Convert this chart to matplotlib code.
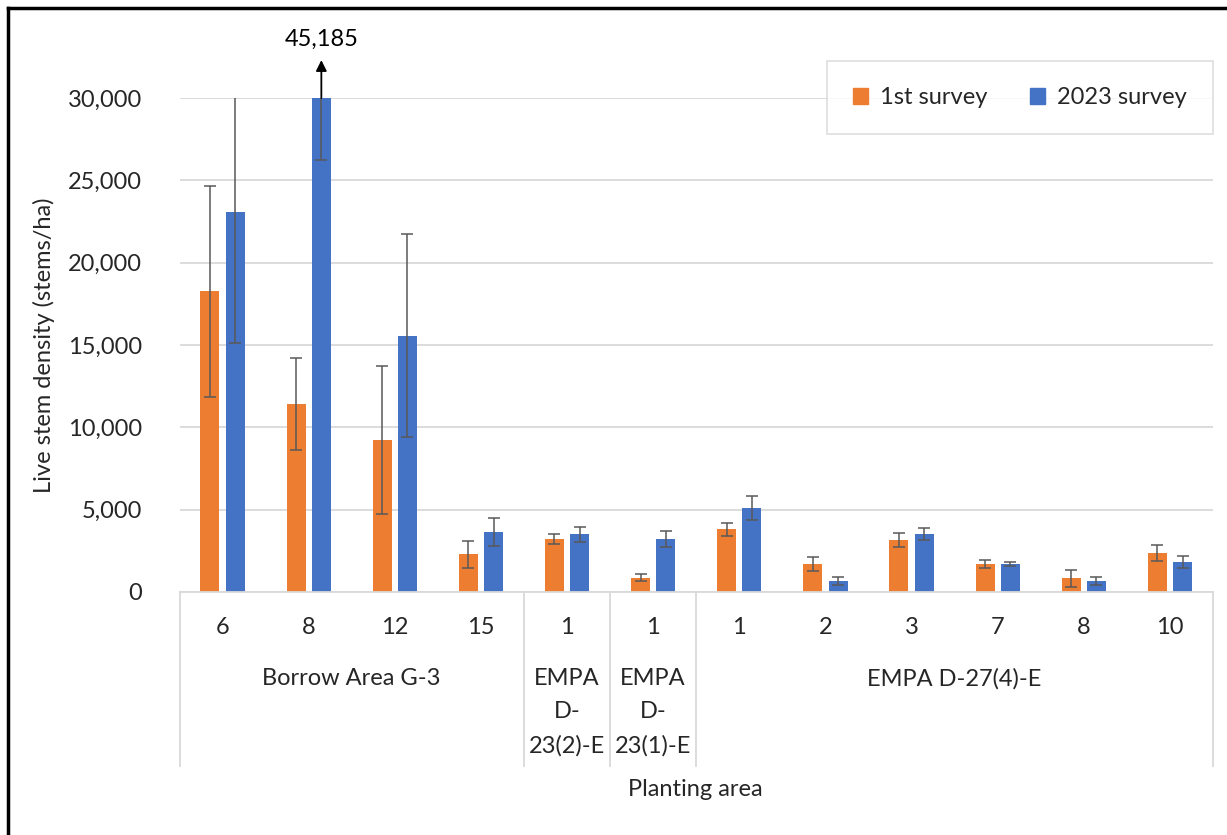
import numpy as np
import matplotlib.pyplot as plt
from matplotlib.lines import Line2D
from matplotlib.patches import Patch

plt.rcParams['font.family'] = ['Lato', 'DejaVu Sans']

plots = ["6", "8", "12", "15", "1", "1", "1", "2", "3", "7", "8", "10"]
groups = ["Borrow Area G-3", "EMPA\nD-\n23(2)-E", "EMPA\nD-\n23(1)-E", "EMPA D-27(4)-E"]
group_sizes = [4, 1, 1, 6]

first = [18250, 11420, 9230, 2290, 3220, 870, 3800, 1700, 3160, 1700, 830, 2350]
first_err = [6420, 2790, 4470, 830, 290, 200, 400, 450, 450, 220, 500, 480]
survey_2023 = [23080, 45185, 15560, 3650, 3500, 3220, 5100, 670, 3500, 1700, 670, 1820]
survey_2023_err = [7950, 18950, 6170, 830, 470, 480, 700, 250, 370, 150, 260, 370]

orange = "#ED7D31"
blue = "#4472C4"
err_col = "#595959"
grid_col = "#D9D9D9"
txt_col = "#262626"
fs = 17

fig = plt.figure(figsize=(12.27, 8.35), dpi=100)
ax = fig.add_axes([179.5 / 1227, 1 - 592 / 835, (1213 - 179.5) / 1227, 494 / 835])

x = np.arange(len(plots))
w = 0.22
off = 0.147
ax.bar(x - off, first, w, color=orange, zorder=2)
ax.bar(x + off, survey_2023, w, color=blue, zorder=2)
ax.errorbar(x - off, first, yerr=first_err, fmt="none", ecolor=err_col,
            elinewidth=1.1, capsize=4, capthick=1.1, zorder=3)
ax.errorbar(x + off, survey_2023, yerr=survey_2023_err, fmt="none", ecolor=err_col,
            elinewidth=1.1, capsize=4, capthick=1.1, zorder=3)

ax.set_xlim(-0.5, len(plots) - 0.5)
ax.set_ylim(0, 30000)
ax.set_yticks(np.arange(0, 30001, 5000))
ax.set_yticklabels([f"{v:,}" for v in range(0, 30001, 5000)], fontsize=fs, color=txt_col)
ax.tick_params(axis="y", length=0, pad=27)
ax.set_xticks([])
for s in ["top", "right", "left"]:
    ax.spines[s].set_visible(False)
ax.spines["bottom"].set_color(grid_col)
ax.spines["bottom"].set_linewidth(1.3)
ax.yaxis.grid(True, color=grid_col, linewidth=1.3, zorder=0)
ax.set_axisbelow(True)

ax.set_ylabel("Live stem density (stems/ha)", fontsize=fs, color=txt_col, labelpad=9)

# value of the clipped bar, arrow pointing up to it
ax.annotate("", xy=(1 + off, 32300), xytext=(1 + off, 30000),
            arrowprops=dict(arrowstyle="-|>", color="black", lw=1.3,
                            mutation_scale=16, shrinkA=0, shrinkB=0),
            annotation_clip=False)
ax.text(1 + off, 33550, "45,185", ha="center", va="center", fontsize=fs,
        color="black", clip_on=False)

# multi-level category axis
tr = ax.get_xaxis_transform()
bottom = -174 / 494
for i, lab in enumerate(plots):
    ax.text(i, -35 / 494, lab, transform=tr, ha="center", va="center",
            fontsize=fs, color=txt_col)

edges = np.concatenate([[0], np.cumsum(group_sizes)]) - 0.5
for e in edges:
    ax.add_line(Line2D([e, e], [0, bottom], transform=tr, color=grid_col,
                       lw=1.3, clip_on=False))
for g, lab in enumerate(groups):
    c = (edges[g] + edges[g + 1]) / 2
    ax.text(c, -76 / 494, lab, transform=tr, ha="center", va="top",
            fontsize=fs, color=txt_col, linespacing=1.72)

fig.text(695 / 1227, 1 - 789 / 835, "Planting area", ha="center", va="center",
         fontsize=fs, color=txt_col)

handles = [Patch(color=orange, label="1st survey"), Patch(color=blue, label="2023 survey")]
leg = fig.legend(handles=handles, loc="upper right", ncol=2,
                 bbox_to_anchor=(1213 / 1227, 1 - 61 / 835), fontsize=fs,
                 frameon=True, fancybox=False, handlelength=0.65, handleheight=0.65,
                 columnspacing=1.8, handletextpad=0.5, borderpad=1.1,
                 borderaxespad=0)
leg.get_frame().set_edgecolor(grid_col)
leg.get_frame().set_linewidth(1.3)
for t in leg.get_texts():
    t.set_color(txt_col)

# outer border (top and left edges visible)
fig.add_artist(Line2D([8 / 1227, 8 / 1227], [0, 1 - 8 / 835], transform=fig.transFigure,
                      color="black", lw=2.5))
fig.add_artist(Line2D([8 / 1227, 1], [1 - 8 / 835, 1 - 8 / 835], transform=fig.transFigure,
                      color="black", lw=2.5))

fig.savefig("out.png", dpi=100, facecolor="white")
